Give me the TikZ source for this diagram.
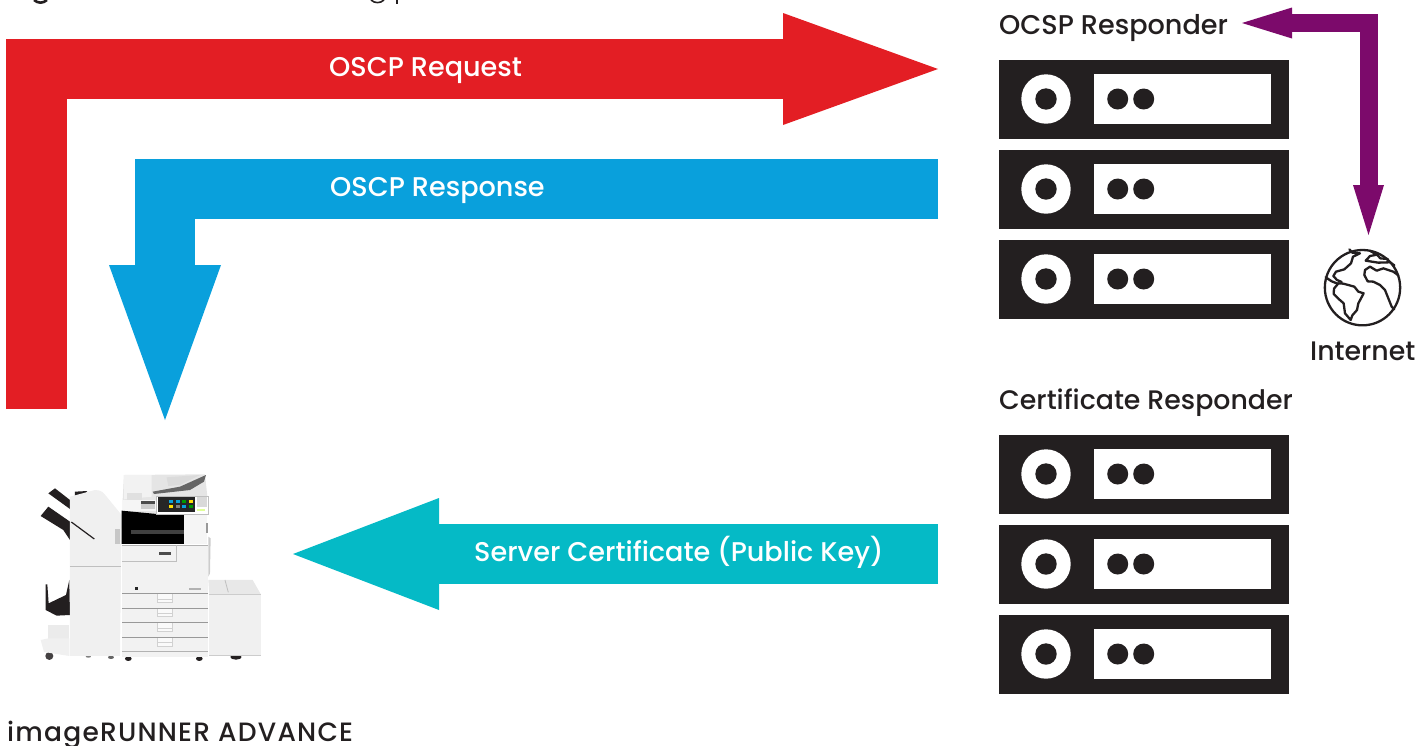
\documentclass[tikz,border=0pt]{standalone}
\usepackage{fontspec}
\setmainfont{Poppins}[UprightFont={* Medium}]
\definecolor{cred}{HTML}{E31E24}
\definecolor{cblue}{HTML}{09A0DC}
\definecolor{cteal}{HTML}{05BAC6}
\definecolor{cpurple}{HTML}{7C0A6B}
\definecolor{cdark}{HTML}{231F20}
\tikzset{
  bigarrow/.style={line width=60.5pt,draw=#1},
  thinarrow/.style={line width=18pt,draw=#1},
  label/.style={anchor=base west,inner sep=0pt,text=#1,font=\fontsize{27.1}{30}\selectfont},
  rackbox/.style={fill=cdark,draw=none,rectangle,minimum width=290pt,minimum height=79pt,inner sep=0pt},
  land/.style={draw=cdark,line width=2.3pt,line join=round,line cap=round},
  body/.style={fill=#1,draw=none},
  seam/.style={draw=#1,line width=0.8pt}
}
\newcommand{\rackunit}[2]{%
  \node[rackbox] (#1) at (1144,#2) {};
  \fill[white] (1046,#2-0.5) circle (24.7pt);
  \fill[cdark] (1046,#2-0.5) circle (10.7pt);
  \fill[white] (1094,#2-25.5) rectangle (1271,#2+24.5);
  \fill[cdark] (1117.7,#2-0.5) circle (10.5pt);
  \fill[cdark] (1143.7,#2-0.5) circle (10.5pt);
}
\begin{document}
\begin{tikzpicture}[x=1pt,y=-1pt]
\useasboundingbox (0,0) rectangle (1421,745);
% clipped remains of the line above the picture
\draw[cdark,line width=2.6pt] (34,0) .. controls (38,3.5) and (43,3.5) .. (47,0);
\draw[cdark,line width=1.6pt] (371,0) .. controls (375,3.5) and (380,3.5) .. (384,0);
\draw[cdark,line width=1.8pt] (397,0) -- (397,4);

% arrows
\coordinate (redstart) at (36.3,409);
\coordinate (redbend) at (36.3,69);
\coordinate (redbase) at (784,69);
\coordinate (redend) at (938,69);
\coordinate (bluestart) at (938,189.2);
\coordinate (bluebend) at (165,189.2);
\coordinate (bluebase) at (165,266);
\coordinate (blueend) at (165,420);
\coordinate (tealstart) at (938,554);
\coordinate (tealbase) at (438,554);
\coordinate (tealend) at (293,554);
\coordinate (purpleA) at (1242,23);
\coordinate (purpleAbase) at (1291,23);
\coordinate (purplebend) at (1369,23);
\coordinate (purpleBbase) at (1369,186);
\coordinate (purpleB) at (1368.5,235);
\draw[bigarrow=cred] (redstart) -- (redbend) -- (redbase);
\fill[cred] (783,13) -- (redend) -- (783,125) -- cycle;
\draw[bigarrow=cblue] (bluestart) -- (bluebend) -- (bluebase);
\fill[cblue] (109,265) -- (blueend) -- (221,265) -- cycle;
\draw[bigarrow=cteal] (tealstart) -- (tealbase);
\fill[cteal] (439,498) -- (tealend) -- (439,610) -- cycle;
\draw[thinarrow=cpurple] (purpleAbase) -- (purplebend) -- (purpleBbase);
\fill[cpurple] (1292,7.5) -- (purpleA) -- (1292,38.5) -- cycle;
\fill[cpurple] (1353,185) -- (purpleB) -- (1384,185) -- cycle;

% labels
\node[label=white] (reqlabel) at (329,76) {OSCP Request};
\node[label=white] (resplabel) at (330,196) {OSCP Response};
\node[label=white] (certlabel) at (474,561) {Server Certificate (Public Key)};
\node[label=cdark] (ocsplabel) at (999,34) {OCSP Responder};
\node[label=cdark,font=\fontsize{26.8}{30}\selectfont] (crlabel) at (999,409) {Certificate Responder};
\node[label=cdark,font=\fontsize{26.8}{30}\selectfont] (netlabel) at (1310,360) {Internet};
\node[label=cdark,font=\fontsize{26.5}{30}\selectfont] (devlabel) at (7,741) {\addfontfeature{LetterSpace=4.6}imageRUNNER ADVANCE};

% server racks
\rackunit{ocspa}{99.5}
\rackunit{ocspb}{189.5}
\rackunit{ocspc}{279.5}
\rackunit{certa}{474.5}
\rackunit{certb}{564.5}
\rackunit{certc}{654.5}

% globe
\begin{scope}[shift={(1315,240)},x=0.3333pt,y=-0.3333pt]
\draw[land] (142.5,143) circle (113);
\draw[land] (103,28) -- (112,38) -- (135,40) -- (114,50) -- (108,70) -- (88,88) -- (63,95) -- (55,108) -- (66,120) -- (80,126);
\draw[land] (32,112) -- (50,124) -- (68,131);
\draw[land] (70,130) -- (57,146) -- (56,162) -- (70,176) -- (86,190) -- (90,220) -- (107,240) -- (112,226) -- (126,210) -- (130,190) -- (146,160) -- (130,155) -- (118,140) -- (100,135) -- (85,131) -- cycle;
\draw[land] (250,106) -- (235,95) -- (205,85) -- (185,92) -- (165,80) -- (150,90) -- (148,105) -- (158,124) -- (175,125) -- (195,135) -- (210,150) -- (222,180) -- (230,200) -- (238,208);
\draw[land] (152,62) -- (165,48) -- (186,44) -- (196,55) -- (218,57) -- (220,67) -- (190,68) -- cycle;
\draw[land] (218,62) -- (238,76);
\draw[land] (166,33) -- (186,44);
\end{scope}

% printer (drawn in coordinates of a 3x view)
\begin{scope}[shift={(0,440)},x=0.3333pt,y=-0.3333pt]
% finisher trays
\fill[cdark] (145,160) -- (165,145) -- (210,180) -- (210,207) -- cycle;
\fill[cdark] (122,228) -- (145,200) -- (210,245) -- (210,300) -- (190,270) -- cycle;
\fill[cdark] (137,433) -- (142,433) -- (146,490) -- (198,465) -- (208,420) -- (210,525) -- (170,527) -- (137,510) -- cycle;
\fill[cdark] (225,155) -- (262,153) -- (250,168) -- (225,168) -- cycle;
% finisher base
\fill[cdark!85] (148,648) circle (12);
\fill[black!60] (333,652) ellipse (9 and 5);
\fill[black!50] (265,650) ellipse (8 and 3);
\path[body=black!8] (145,555) -- (208,555) -- (208,600) -- (145,600) -- cycle;
\path[body=black!6] (122,600) -- (145,595) -- (208,595) -- (208,648) -- (132,636) -- cycle;
% finisher body
\path[body=black!6] (210,170) -- (285,150) .. controls (305,150) and (310,158) .. (320,170) -- (365,225) -- (360,648) -- (210,648) -- cycle;
\draw[seam=black!25] (210,378) -- (362,378);
\fill[black!22] (346,268) rectangle (360,312);
\draw[cdark,line width=1.2pt] (214,246) -- (283,297);
% main feet
\fill[cdark] (385,656) ellipse (10 and 7);
\fill[cdark] (598,656) ellipse (10 and 7);
% main body
\path[body=black!5] (365,315) rectangle (625,650);
\path[body=black!10] (372,105) -- (615,103) -- (622,168) -- (622,225) -- (368,225) -- (368,180) -- cycle;
\path[body=black!5] (372,105) -- (455,105) -- (455,170) -- (372,178) -- cycle;
\fill[black!60] (458,155) -- (540,140) -- (618,105) -- (612,125) -- (570,150) -- (462,162) -- cycle;
\path[body=black!14] (500,112) -- (600,105) -- (540,135) -- (505,138) -- cycle;
\fill[black!12] (380,160) rectangle (425,180);
\path[body=black!4] (368,180) rectangle (470,212);
\fill[black!70] (424,184) rectangle (465,192);
\fill[black!20] (424,192) rectangle (465,207);
\fill[black] (365,212) -- (470,222) -- (552,225) -- (552,312) -- (365,312) -- cycle;
\fill[black!75] (392,270) rectangle (552,282);
\path[body=black!4] (552,225) rectangle (622,312);
\fill[black!40] (617,250) rectangle (624,278);
\fill[black!20] (625,290) -- (632,295) -- (630,400) -- (625,410) -- cycle;
% control panel
\fill[white] (470,168) rectangle (625,222);
\draw[black!25,line width=0.5pt] (470,168) rectangle (625,222);
\fill[black!85] (474,171) rectangle (584,215);
\foreach \px/\pc in {514/cblue,533/cblue,552/green!60!black,572/yellow!80!orange}
  \fill[\pc] (\px-6,180) rectangle (\px+6,190);
\foreach \px/\pc in {514/yellow!80!orange,533/black!50,552/cblue,572/green!60!black}
  \fill[\pc] (\px-6,195) rectangle (\px+6,205);
\fill[black!15] (590,172) rectangle (620,200);
\fill[green!30!yellow!40] (592,206) rectangle (615,214);
% body seams
\draw[seam=black!30] (367,315) -- (625,315);
\draw[seam=black!25] (367,364) -- (530,364) -- (530,316);
\fill[black!70] (478,335) rectangle (512,344);
\fill[black!85] (405,441) rectangle (413,450);
\fill[black!30] (567,445) rectangle (603,449);
\foreach \dy in {462,505,549,593} {
  \fill[black!2] (472,\dy) rectangle (518,\dy+25);
  \draw[black!18,line width=0.6pt] (472,\dy) -- (472,\dy+25) -- (518,\dy+25) -- (518,\dy);
  \draw[black!18,line width=0.6pt] (472,\dy+15) -- (518,\dy+15);
  \draw[black!40,line width=1pt] (367,\dy) -- (624,\dy);
}
\draw[black!30,line width=1pt] (367,635) -- (624,635);
% side deck
\fill[cdark] (708,651) ellipse (17 and 8);
\path[body=black!6] (628,462) rectangle (782,645);
\path[body=black!9] (625,420) -- (758,420) -- (782,462) -- (628,462) -- cycle;
\draw[seam=black!20] (628,462) -- (782,462);
\draw[seam=black!25] (675,420) -- (685,457);
\draw[seam=black!20] (628,645) -- (782,645);
\end{scope}
\end{tikzpicture}
\end{document}
